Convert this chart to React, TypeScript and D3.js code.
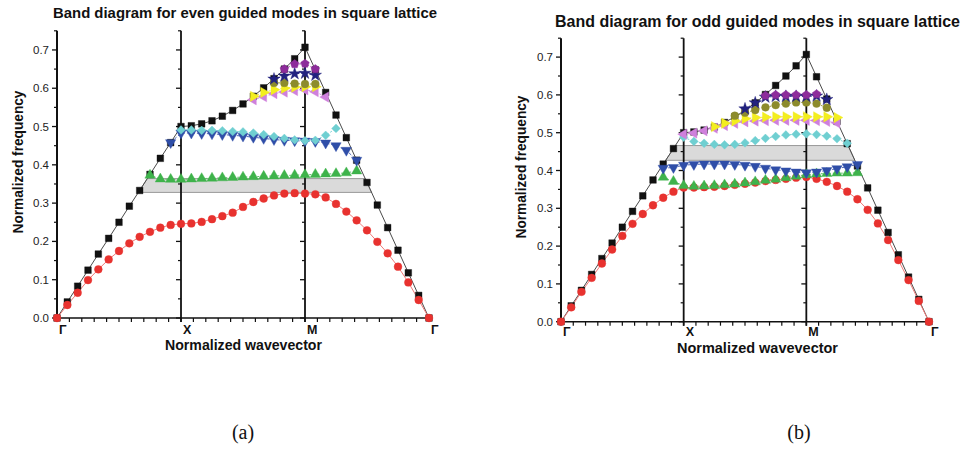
import React from "react";
import * as d3 from "d3";

// k-path Γ → X → M → Γ, 12 steps per segment (indices 0..36)
const pathLabels = ["Γ", "X", "M", "Γ"];
const pathIndex = [0, 12, 24, 36];
const freqTicks = [0, 0.1, 0.2, 0.3, 0.4, 0.5, 0.6, 0.7];
const freqMax = 0.75;

// light line (black squares), same in both diagrams
const lightLine = [
  0, 0.042, 0.083, 0.125, 0.167, 0.208, 0.25, 0.292, 0.333, 0.375, 0.417, 0.458, 0.5,
  0.502, 0.507, 0.515, 0.527, 0.542, 0.559, 0.579, 0.601, 0.625, 0.65, 0.677, 0.707,
  0.648, 0.589, 0.53, 0.471, 0.412, 0.354, 0.295, 0.236, 0.177, 0.118, 0.059, 0,
];

// ---- even guided modes ----
const evenRed = [
  0, 0.034, 0.066, 0.099, 0.127, 0.153, 0.175, 0.195, 0.212, 0.225, 0.236, 0.243, 0.246,
  0.247, 0.251, 0.258, 0.266, 0.275, 0.29, 0.303, 0.312, 0.32, 0.325, 0.326, 0.325,
  0.323, 0.315, 0.298, 0.278, 0.255, 0.229, 0.199, 0.169, 0.134, 0.093, 0.047, 0,
];
const evenGreenStart = 9;
const evenGreen = [
  0.373, 0.363, 0.362, 0.362,
  0.363, 0.364, 0.365, 0.366, 0.367, 0.368, 0.369, 0.37, 0.371, 0.372, 0.373, 0.374,
  0.375, 0.376, 0.377, 0.379, 0.384,
];
const evenBlueStart = 11;
const evenBlue = [
  0.458, 0.483,
  0.483, 0.482, 0.481, 0.479, 0.477, 0.475, 0.472, 0.469, 0.466, 0.464, 0.463, 0.462,
  0.461, 0.457, 0.45, 0.438, 0.412,
];
const evenCyanStart = 12;
const evenCyan = [
  0.491, 0.491, 0.49, 0.49, 0.489, 0.487, 0.486, 0.483, 0.479, 0.474, 0.469, 0.465, 0.463,
  0.464, 0.477, 0.495,
];
const evenPinkStart = 19;
const evenPink = [0.57, 0.578, 0.586, 0.59, 0.594, 0.596, 0.591, 0.577];
const evenYellowStart = 19;
const evenYellow = [0.579, 0.589, 0.596, 0.6, 0.603, 0.604, 0.604];
const evenOliveStart = 21;
const evenOlive = [0.614, 0.614, 0.612, 0.611, 0.611];
const evenNavyStart = 21;
const evenNavy = [0.624, 0.632, 0.638, 0.639, 0.634];
const evenPurpleStart = 22;
const evenPurple = [0.65, 0.663, 0.664, 0.65];
const evenGap = [0.328, 0.364];

// ---- odd guided modes ----
const oddRed = [
  0, 0.038, 0.079, 0.116, 0.154, 0.191, 0.227, 0.259, 0.285, 0.308, 0.328, 0.344, 0.355,
  0.355, 0.356, 0.357, 0.359, 0.362, 0.365, 0.368, 0.372, 0.375, 0.378, 0.381, 0.383,
  0.378, 0.37, 0.359, 0.344, 0.324, 0.296, 0.26, 0.216, 0.163, 0.11, 0.055, 0,
];
const oddGreenStart = 10;
const oddGreen = [
  0.382, 0.371, 0.36,
  0.358, 0.359, 0.36, 0.362, 0.364, 0.367, 0.37, 0.374, 0.377, 0.381, 0.385, 0.389,
  0.391, 0.392, 0.393, 0.393, 0.394,
];
const oddBlueStart = 10;
const oddBlue = [
  0.406, 0.408, 0.414,
  0.416, 0.417, 0.417, 0.417, 0.416, 0.414, 0.411, 0.406, 0.402, 0.399, 0.396, 0.394,
  0.396, 0.4, 0.405, 0.41, 0.416,
];
const oddCyanStart = 12;
const oddCyan = [
  0.488, 0.477, 0.472, 0.469, 0.468, 0.469, 0.473, 0.479, 0.485, 0.49, 0.494, 0.496, 0.497,
  0.495, 0.491, 0.484, 0.472,
];
const oddPinkStart = 12;
const oddPink = [
  0.496, 0.499, 0.505, 0.512, 0.519, 0.525, 0.529, 0.531, 0.532, 0.533, 0.533, 0.533, 0.533,
  0.532, 0.53, 0.526,
];
const oddYellowStart = 15;
const oddYellow = [0.516, 0.525, 0.531, 0.537, 0.54, 0.541, 0.542, 0.542, 0.542, 0.542, 0.542, 0.542, 0.54];
const oddOliveStart = 17;
const oddOlive = [0.545, 0.553, 0.56, 0.567, 0.573, 0.577, 0.58, 0.58, 0.577, 0.566];
const oddNavyStart = 18;
const oddNavy = [0.563, 0.579, 0.594, 0.596, 0.596, 0.596, 0.596, 0.597, 0.588];
const oddPurpleStart = 20;
const oddPurple = [0.598, 0.6, 0.6, 0.6, 0.6, 0.602];
const oddGap = [0.427, 0.466];

// marker / line styles per band
const styles: Record<string, any> = {
  light: { shape: "square", fill: "#111111", line: "#4a4a4a", dash: null, size: 44 },
  red: { shape: "circle", fill: "#e8322f", line: "#f07a78", dash: null, size: 48 },
  green: { shape: "up", fill: "#3eb34b", line: "#5cc266", dash: "2,2", size: 46 },
  blue: { shape: "down", fill: "#2f4ea8", line: "#4d66b8", dash: "3,2", size: 46 },
  cyan: { shape: "diamond", fill: "#6fcfd1", line: "#7dd3d5", dash: "2,2", size: 38 },
  pink: { shape: "left", fill: "#cf80dc", line: "#d595df", dash: "2,2", size: 46 },
  yellow: { shape: "right", fill: "#f3ee1f", line: "#e8e040", dash: "2,2", size: 46 },
  olive: { shape: "circle", fill: "#8c8b2c", line: "#9a9940", dash: "2,2", size: 48 },
  navy: { shape: "star", fill: "#22227f", line: "#3a3a90", dash: "2,2", size: 48 },
  purple: { shape: "pentagon", fill: "#8d2c9b", line: "#9c48a8", dash: "2,2", size: 48 },
};

const evenSeries = [
  { key: "light", start: 0, values: lightLine },
  { key: "red", start: 0, values: evenRed },
  { key: "green", start: evenGreenStart, values: evenGreen },
  { key: "blue", start: evenBlueStart, values: evenBlue },
  { key: "cyan", start: evenCyanStart, values: evenCyan },
  { key: "pink", start: evenPinkStart, values: evenPink },
  { key: "yellow", start: evenYellowStart, values: evenYellow },
  { key: "olive", start: evenOliveStart, values: evenOlive },
  { key: "navy", start: evenNavyStart, values: evenNavy },
  { key: "purple", start: evenPurpleStart, values: evenPurple },
];

const oddSeries = [
  { key: "light", start: 0, values: lightLine },
  { key: "red", start: 0, values: oddRed },
  { key: "green", start: oddGreenStart, values: oddGreen },
  { key: "blue", start: oddBlueStart, values: oddBlue },
  { key: "cyan", start: oddCyanStart, values: oddCyan },
  { key: "pink", start: oddPinkStart, values: oddPink },
  { key: "yellow", start: oddYellowStart, values: oddYellow },
  { key: "olive", start: oddOliveStart, values: oddOlive },
  { key: "navy", start: oddNavyStart, values: oddNavy },
  { key: "purple", start: oddPurpleStart, values: oddPurple },
];

const symbolPentagon = {
  draw(context: any, size: number) {
    const r = Math.sqrt(size / (2.5 * Math.sin((2 * Math.PI) / 5)));
    for (let k = 0; k < 5; k++) {
      const a = -Math.PI / 2 + (k * 2 * Math.PI) / 5;
      const x = r * Math.cos(a);
      const y = r * Math.sin(a);
      if (k === 0) context.moveTo(x, y);
      else context.lineTo(x, y);
    }
    context.closePath();
  },
};

function markerPath(shape: string, size: number): { d: string; rot: number } {
  const table: Record<string, [any, number]> = {
    square: [d3.symbolSquare, 0],
    circle: [d3.symbolCircle, 0],
    up: [d3.symbolTriangle, 0],
    down: [d3.symbolTriangle, 180],
    left: [d3.symbolTriangle, -90],
    right: [d3.symbolTriangle, 90],
    diamond: [d3.symbolSquare, 45],
    star: [d3.symbolStar, 0],
    pentagon: [symbolPentagon, 0],
  };
  const [type, rot] = table[shape];
  return { d: d3.symbol().type(type).size(size)() as string, rot };
}

// position along the light line where it reaches a given frequency
function lightCross(v: number, rising: boolean): number {
  if (rising) {
    for (let i = 0; i < 24; i++) {
      const a = lightLine[i], b = lightLine[i + 1];
      if (a <= v && v <= b) return i + (v - a) / (b - a);
    }
  } else {
    for (let i = 24; i < 36; i++) {
      const a = lightLine[i], b = lightLine[i + 1];
      if (a >= v && v >= b) return i + (a - v) / (a - b);
    }
  }
  return 0;
}

const SANS = "'Liberation Sans', Arial, Helvetica, sans-serif";

type PanelProps = {
  series: typeof evenSeries;
  gap: number[];
  left: number;
  right: number;
  bottom: number;
  top: number;
  title: string;
  titleX: number;
  titleY: number;
  titleSize: number;
  titleWidth: number;
  yLabelX: number;
  yLabelY: number;
  xLabelX: number;
  xLabelY: number;
  xLabelWidth: number;
  kLabelY: number;
  caption: string;
  captionX: number;
};

function Panel(p: PanelProps) {
  const x = d3.scaleLinear().domain([0, 36]).range([p.left, p.right]);
  const y = d3.scaleLinear().domain([0, freqMax]).range([p.bottom, p.top]);

  const minorTicks = d3.range(0.05, freqMax + 0.001, 0.1);
  const bottomTicks = d3.range(0, 36.001, 1.2);

  const [lo, hi] = p.gap;
  const gapPts: [number, number][] = [
    [x(lightCross(lo, true)), y(lo)],
    [x(lightCross(hi, true)), y(hi)],
    [x(lightCross(hi, false)), y(hi)],
    [x(lightCross(lo, false)), y(lo)],
  ];

  const axisXs = pathIndex.slice(0, 3).map((i) => x(i));

  return (
    <g>
      {/* title */}
      <text
        x={p.titleX}
        y={p.titleY}
        fontFamily={SANS}
        fontWeight="bold"
        fontSize={p.titleSize}
        textLength={p.titleWidth}
        lengthAdjust="spacingAndGlyphs"
        fill="#111"
      >
        {p.title}
      </text>

      {/* photonic band gap */}
      <polygon
        points={gapPts.map((q) => q.join(",")).join(" ")}
        fill="#dadada"
        stroke="#9a9a9a"
        strokeWidth={1}
      />

      {/* bottom axis */}
      <line x1={p.left} x2={p.right} y1={p.bottom} y2={p.bottom} stroke="#111" strokeWidth={1.5} />
      {bottomTicks.map((t, i) => (
        <line key={i} x1={x(t)} x2={x(t)} y1={p.bottom} y2={p.bottom + 4} stroke="#111" strokeWidth={1.2} />
      ))}

      {/* vertical axes at Γ, X and M */}
      {axisXs.map((ax, j) => (
        <g key={j}>
          <line x1={ax} x2={ax} y1={p.bottom + (j === 0 ? 0 : 4)} y2={y(freqMax)} stroke="#111" strokeWidth={j === 0 ? 2 : 1.8} />
          {freqTicks.map((t) => (
            <line key={"M" + t} x1={ax - 5} x2={ax} y1={y(t)} y2={y(t)} stroke="#111" strokeWidth={1.3} />
          ))}
          {minorTicks.map((t) => (
            <line key={"m" + t} x1={ax - 3} x2={ax} y1={y(t)} y2={y(t)} stroke="#111" strokeWidth={1.2} />
          ))}
        </g>
      ))}

      {/* frequency tick labels */}
      {freqTicks.map((t) => (
        <text
          key={t}
          x={p.left - 8}
          y={y(t)}
          dy="0.35em"
          textAnchor="end"
          fontFamily={SANS}
          fontSize={11.5}
          fill="#222"
        >
          {t.toFixed(1)}
        </text>
      ))}

      {/* symmetry point labels */}
      {pathLabels.map((lab, i) => (
        <text
          key={i}
          x={x(pathIndex[i]) + 2}
          y={p.kLabelY}
          fontFamily={SANS}
          fontWeight="bold"
          fontSize={12.5}
          fill="#111"
        >
          {lab}
        </text>
      ))}

      {/* band lines */}
      {p.series.map((s) => {
        const st = styles[s.key];
        const gen = d3
          .line<number>()
          .x((_, i) => x(s.start + i))
          .y((v) => y(v));
        return (
          <path
            key={"l" + s.key}
            d={gen(s.values) as string}
            fill="none"
            stroke={st.line}
            strokeWidth={1}
            strokeDasharray={st.dash ?? undefined}
          />
        );
      })}

      {/* band markers */}
      {p.series.map((s) => {
        const st = styles[s.key];
        const m = markerPath(st.shape, st.size);
        return (
          <g key={"m" + s.key}>
            {s.values.map((v, i) => (
              <path
                key={i}
                d={m.d}
                transform={`translate(${x(s.start + i)},${y(v)}) rotate(${m.rot})`}
                fill={st.fill}
                stroke={st.fill}
                strokeWidth={0.4}
              />
            ))}
          </g>
        );
      })}

      {/* axis titles */}
      <text
        x={p.xLabelX}
        y={p.xLabelY}
        textAnchor="middle"
        fontFamily={SANS}
        fontWeight="bold"
        fontSize={15}
        textLength={p.xLabelWidth}
        lengthAdjust="spacingAndGlyphs"
        fill="#111"
      >
        Normalized wavevector
      </text>
      <text
        transform={`translate(${p.yLabelX},${p.yLabelY}) rotate(-90)`}
        textAnchor="middle"
        fontFamily={SANS}
        fontWeight="bold"
        fontSize={14.5}
        textLength={143}
        lengthAdjust="spacingAndGlyphs"
        fill="#111"
      >
        Normalized frequency
      </text>

      {/* sub-figure caption */}
      <text
        x={p.captionX}
        y={439}
        textAnchor="middle"
        fontFamily="'Liberation Serif', 'Times New Roman', serif"
        fontSize={20}
        fill="#111"
      >
        {p.caption}
      </text>
    </g>
  );
}

export default function App() {
  return (
    <svg
      width={968}
      height={449}
      viewBox="0 0 968 449"
      style={{ position: "absolute", left: 0, top: 0, background: "#fff" }}
    >
      <rect width={968} height={449} fill="#fff" />
      <Panel
        series={evenSeries}
        gap={evenGap}
        left={57}
        right={429}
        bottom={318}
        top={30.8}
        title="Band diagram for even guided modes in square lattice"
        titleX={53}
        titleY={18.3}
        titleSize={15.5}
        titleWidth={384}
        yLabelX={22.5}
        yLabelY={162}
        xLabelX={243.5}
        xLabelY={349.5}
        xLabelWidth={157}
        kLabelY={333.5}
        caption="(a)"
        captionX={243}
      />
      <Panel
        series={oddSeries}
        gap={oddGap}
        left={561}
        right={929}
        bottom={321.7}
        top={38.2}
        title="Band diagram for odd guided modes in square lattice"
        titleX={555}
        titleY={26.7}
        titleSize={16}
        titleWidth={405}
        yLabelX={526}
        yLabelY={167}
        xLabelX={757.5}
        xLabelY={353}
        xLabelWidth={161}
        kLabelY={335.5}
        caption="(b)"
        captionX={799}
      />
    </svg>
  );
}
